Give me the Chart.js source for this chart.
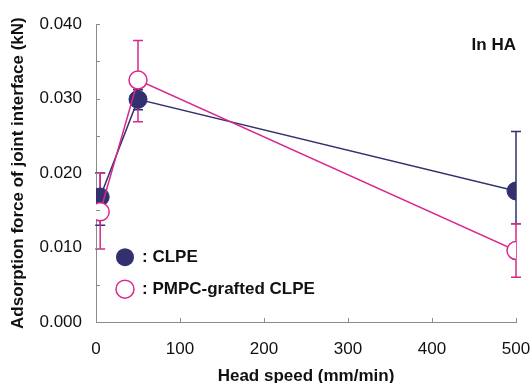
<!DOCTYPE html>
<html>
<head>
<meta charset="utf-8">
<script src="https://cdn.jsdelivr.net/npm/chart.js@4"></script>
<style>
	body { margin: 0; background: #fff; }
	#wrap { width: 531px; height: 383px; }
</style>
</head>
<body>
<div id="wrap"><canvas id="chart"></canvas></div>
<script>
// Head speed (mm/min)
const speeds = [5, 50, 500];

// CLPE: mean and error bar ends (kN)
const clpe = [0.0168, 0.0299, 0.0176];
const clpeLow = [0.013, 0.0285, 0.0132];
const clpeHigh = [0.02, 0.0312, 0.0256];

// PMPC-grafted CLPE: mean and error bar ends (kN)
const pmpc = [0.0148, 0.0325, 0.0096];
const pmpcLow = [0.0098, 0.0269, 0.006];
const pmpcHigh = [0.02, 0.0378, 0.0132];

const legendLabels = [": CLPE", ": PMPC-grafted CLPE"];
const noteText = "In HA";

const navy = "#33306f";
const pink = "#d8288c";
const axisColor = "#8a8a8a";
const font = "'Liberation Sans', Arial, sans-serif";

// Error bars, drawn under the markers
const errorBars = {
	id: "errorBars",
	beforeDatasetsDraw(chart) {
		const { ctx, scales } = chart;
		const sets = [
			{ low: clpeLow, high: clpeHigh, color: navy },
			{ low: pmpcLow, high: pmpcHigh, color: pink },
		];
		ctx.save();
		ctx.lineWidth = 1.5;
		sets.forEach((s) => {
			ctx.strokeStyle = s.color;
			speeds.forEach((x, i) => {
				const px = scales.x.getPixelForValue(x);
				const y1 = scales.y.getPixelForValue(s.low[i]);
				const y2 = scales.y.getPixelForValue(s.high[i]);
				ctx.beginPath();
				ctx.moveTo(px, y1);
				ctx.lineTo(px, y2);
				ctx.moveTo(px - 5, y1);
				ctx.lineTo(px + 5, y1);
				ctx.moveTo(px - 5, y2);
				ctx.lineTo(px + 5, y2);
				ctx.stroke();
			});
		});
		ctx.restore();
	},
};

// Inward tick marks, legend and note
const extras = {
	id: "extras",
	afterDraw(chart) {
		const { ctx, scales, chartArea } = chart;
		ctx.save();
		ctx.strokeStyle = axisColor;
		ctx.lineWidth = 1;
		scales.y.ticks.forEach((t) => {
			const y = Math.round(scales.y.getPixelForValue(t.value)) + 0.5;
			ctx.beginPath();
			ctx.moveTo(chartArea.left, y);
			ctx.lineTo(chartArea.left + 4, y);
			ctx.stroke();
		});
		scales.x.ticks.forEach((t) => {
			if (t.value === 0) return;
			const x = Math.round(scales.x.getPixelForValue(t.value)) + 0.5;
			ctx.beginPath();
			ctx.moveTo(x, chartArea.bottom);
			ctx.lineTo(x, chartArea.bottom - 4);
			ctx.stroke();
		});

		// legend
		const lx = chartArea.left + 29;
		const ly = [chartArea.top + 233, chartArea.top + 265];
		ctx.lineWidth = 1.5;
		ctx.beginPath();
		ctx.arc(lx, ly[0], 9, 0, Math.PI * 2);
		ctx.fillStyle = navy;
		ctx.fill();
		ctx.beginPath();
		ctx.arc(lx, ly[1], 9, 0, Math.PI * 2);
		ctx.fillStyle = "#fff";
		ctx.fill();
		ctx.strokeStyle = pink;
		ctx.stroke();

		ctx.fillStyle = "#111";
		ctx.font = "bold 17px " + font;
		ctx.textBaseline = "middle";
		ctx.textAlign = "left";
		legendLabels.forEach((label, i) => ctx.fillText(label, lx + 17, ly[i]));

		ctx.textAlign = "right";
		ctx.fillText(noteText, chartArea.right, chartArea.top + 21);
		ctx.restore();
	},
};

new Chart(document.getElementById("chart"), {
	type: "line",
	data: {
		datasets: [
			{
				label: "PMPC-grafted CLPE",
				data: speeds.map((x, i) => ({ x, y: pmpc[i] })),
				borderColor: pink,
				backgroundColor: "#fff",
				pointBorderColor: pink,
				pointBackgroundColor: "#fff",
				pointRadius: 9,
				pointBorderWidth: 1.5,
				borderWidth: 1.5,
				order: 1,
			},
			{
				label: "CLPE",
				data: speeds.map((x, i) => ({ x, y: clpe[i] })),
				borderColor: navy,
				backgroundColor: navy,
				pointBorderColor: navy,
				pointBackgroundColor: navy,
				pointRadius: 9,
				pointBorderWidth: 1,
				borderWidth: 1.5,
				order: 2,
			},
		],
	},
	options: {
		responsive: true,
		maintainAspectRatio: false,
		animation: false,
		layout: {
			padding: { top: 21, right: 0, left: 0, bottom: 0 },
		},
		plugins: {
			legend: { display: false },
			tooltip: { enabled: false },
		},
		scales: {
			x: {
				type: "linear",
				min: 0,
				max: 500,
				ticks: {
					stepSize: 100,
					color: "#111",
					padding: 17,
					maxRotation: 0,
					font: { size: 17, family: font },
				},
				grid: { display: false, drawTicks: false },
				border: { display: true, color: axisColor, width: 1 },
				title: {
					display: true,
					text: "Head speed (mm/min)",
					color: "#111",
					padding: { top: 6, bottom: -4 },
					font: { size: 17, weight: "bold", family: font },
				},
				afterFit(scale) {
					scale.height = 61;
					scale.paddingLeft = 0;
					scale.paddingRight = 15;
				},
			},
			y: {
				min: 0,
				max: 0.04,
				ticks: {
					stepSize: 0.005,
					color: "#111",
					padding: 14,
					font: { size: 17, family: font },
					callback: (v) => (Math.round(v * 1000) % 10 === 0 ? v.toFixed(3) : ""),
				},
				grid: { display: false, drawTicks: false },
				border: { display: true, color: axisColor, width: 1 },
				title: {
					display: true,
					text: "Adsorption force of joint interface (kN)",
					color: "#111",
					padding: { top: 8, bottom: 0 },
					font: { size: 17, weight: "bold", family: font },
				},
				afterFit(scale) {
					scale.width = 96;
				},
			},
		},
	},
	plugins: [errorBars, extras],
});
</script>
</body>
</html>
